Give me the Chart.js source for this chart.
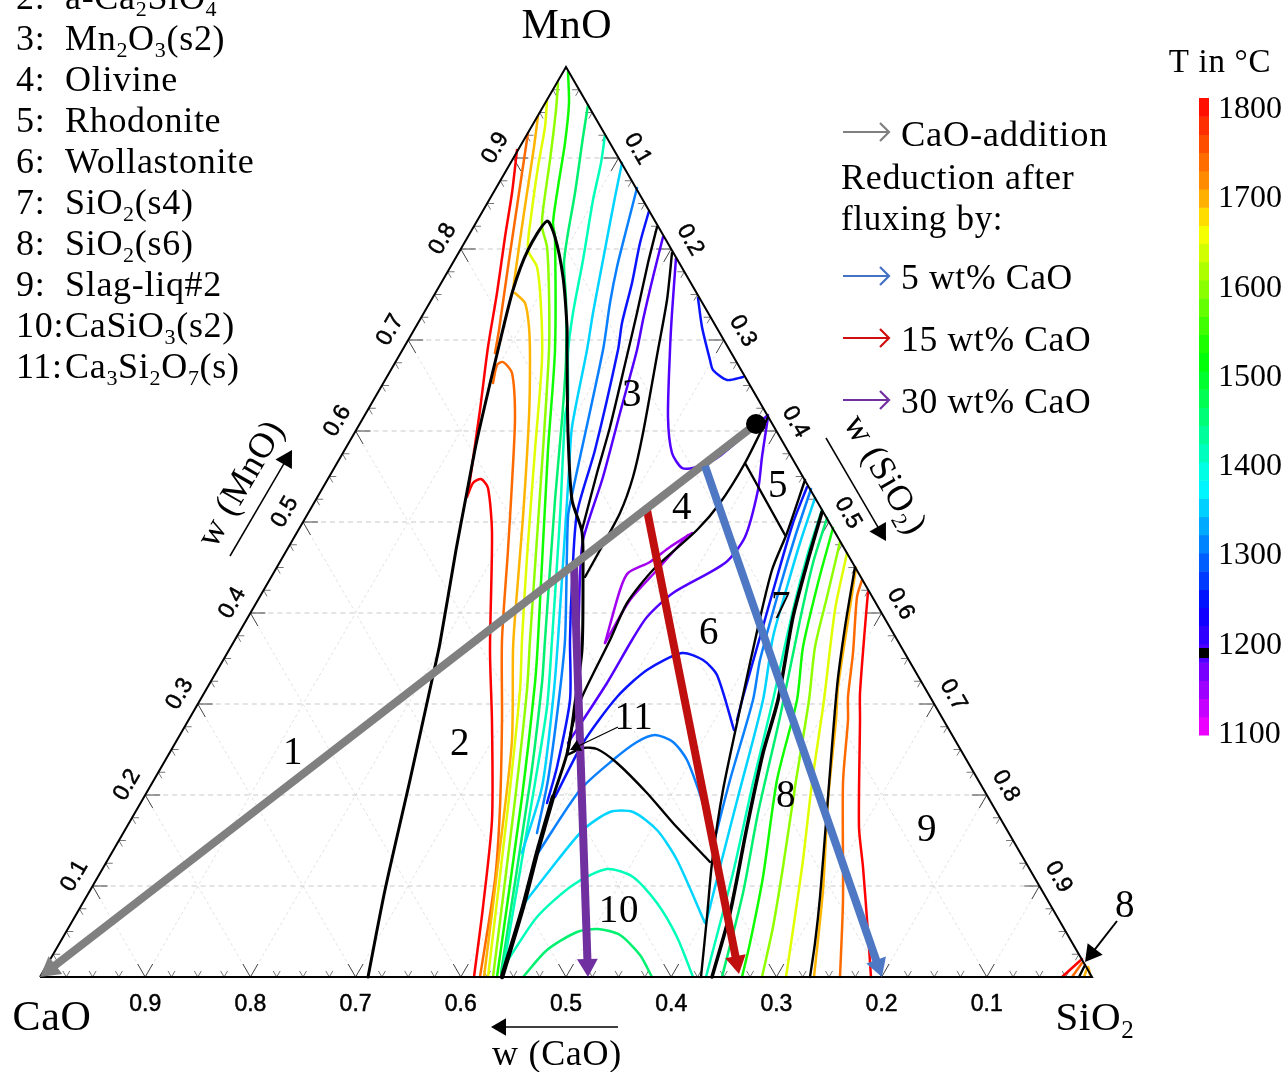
<!DOCTYPE html>
<html>
<head>
<meta charset="utf-8">
<title>CaO-MnO-SiO2</title>
<style>
  html, body { margin: 0; padding: 0; background: #fff; }
  canvas { display: block; }
</style>
<script src="https://cdn.jsdelivr.net/npm/chart.js@4"></script>
</head>
<body>
<canvas id="ternary" width="1286" height="1072"></canvas>
<script>
// Diagram units: x runs along the CaO-SiO2 edge (1052 long), y is the height above it (910 at MnO)
const EDGE = 1052;
const HEIGHT = 910;

// Tick values
const majorTicks = [0.1, 0.2, 0.3, 0.4, 0.5, 0.6, 0.7, 0.8, 0.9];
const minorTicks = [0.025, 0.05, 0.075, 0.125, 0.15, 0.175, 0.225, 0.25, 0.275, 0.325, 0.35, 0.375,
  0.425, 0.45, 0.475, 0.525, 0.55, 0.575, 0.625, 0.65, 0.675, 0.725, 0.75, 0.775, 0.825, 0.85, 0.875,
  0.925, 0.95, 0.975];
const colorbarTicks = [1800, 1700, 1600, 1500, 1400, 1300, 1200, 1100];
const colorbarStops = [
  [1800, [255, 0, 0]], [1700, [255, 154, 0]], [1655, [255, 255, 0]], [1515, [0, 255, 0]],
  [1375, [0, 255, 255]], [1240, [0, 0, 255]], [1190, [80, 0, 255]], [1100, [255, 0, 255]]
];

// Isotherms, hottest first
const isoRed = [
  [[477,827],[472,784],[465,740],[457,684],[448,630],[440,567],[429,490]],
  [[427,480],[433,494],[441,498],[448,489],[452,444],[450,327],[452,254],[452,157],[443,70],[434,0]],
  [[828,385],[825,350],[820,284],[820,257],[819,150],[823,110],[828,44],[831,0]],
  [[1022,0],[1042,18]]
];
const isoOrange = [
  [[488,844],[482,804],[475,757],[468,710],[459,647],[455,624]],
  [[453,594],[457,612],[463,615],[472,604],[475,560],[472,494],[468,427],[462,337],[462,257],[460,170],[455,97],[440,0]],
  [[822,397],[817,380],[813,324],[808,280],[808,257],[803,194],[803,77],[800,0]],
  [[1032,0],[1042,14]]
];
const isoAmber = [
  [[498,861],[494,830],[487,784],[480,737],[473,687]],
  [[475,684],[485,674],[489,650],[490,617],[489,560],[483,460],[475,360],[473,327],[472,237],[463,154],[444,0]],
  [[816,409],[807,350],[798,290],[796,257],[788,177],[783,87],[774,0]],
  [[1044,0],[1048,10],[1050,2]]
];
const isoYellow = [
  [[507,876],[505,850],[498,810],[491,760],[488,727],[497,710],[501,670],[502,617],[495,527],[487,420],[482,337],[480,287],[468,170],[448,0]],
  [[807,424],[795,367],[784,277],[772,194],[763,117],[753,47],[746,0]]
];
const isoLime = [
  [[518,894],[516,867],[510,817],[503,767],[502,750],[507,730],[509,684],[509,627],[503,527],[490,337],[487,287],[475,177],[453,0]],
  [[800,435],[787,380],[775,330],[769,277],[755,190],[743,110],[733,50],[722,0]]
];
const isoGreen = [
  [[528,905],[529,874],[525,834],[518,790],[513,754],[515,740],[515,627],[508,527],[498,337],[495,294],[482,180],[457,0]],
  [[793,449],[778,394],[763,330],[757,277],[737,197],[723,100],[710,34],[702,0]]
];
const isoSpring = [
  [[548,872],[543,840],[535,784],[528,744],[524,714],[526,677],[526,617],[522,557],[515,477],[505,337],[502,294],[490,194],[461,4]],
  [[483,0],[507,27],[537,45],[558,48],[580,42],[600,22],[612,0]],
  [[787,459],[773,414],[760,357],[740,260],[718,164],[703,84],[682,0]]
];
const isoMint = [
  [[565,842],[561,814],[553,777],[543,717],[533,664],[528,624],[528,577],[525,560],[520,460],[512,337],[507,270],[495,194],[463,7]],
  [[468,17],[497,60],[533,92],[567,108],[593,100],[617,74],[637,40],[653,0]],
  [[782,467],[768,424],[753,367],[733,277],[713,194],[693,104],[666,0]]
];
const isoCyan = [
  [[582,814],[575,780],[563,717],[553,664],[547,627],[532,550],[529,507],[518,337],[513,277],[502,190],[482,124]],
  [[483,72],[510,107],[543,147],[570,165],[593,165],[617,147],[637,117],[665,54]],
  [[775,479],[760,434],[747,390],[733,340],[723,277],[698,180],[680,110],[666,54]]
];
const isoAzure = [
  [[597,789],[587,750],[577,710],[570,674],[563,627],[533,487],[528,460],[525,337],[518,270],[508,197],[497,144]],
  [[498,124],[540,187],[573,217],[597,235],[615,242],[633,235],[647,217],[663,174],[673,142]],
  [[771,488],[755,440],[740,390],[720,317],[713,277],[690,197],[675,139]]
];
const isoBlue = [
  [[609,766],[600,734],[592,694],[582,654],[578,627],[555,527],[537,464],[532,394],[530,337],[530,277],[517,210],[507,174]],
  [[515,180],[543,234],[577,280],[607,307],[642,324],[663,317],[677,302],[694,247]],
  [[658,679],[662,650],[670,617],[673,607],[687,597],[703,600]],
  [[767,490],[753,454],[737,400],[720,340],[703,280],[697,257]]
];
const isoViolet = [
  [[623,740],[613,700],[603,657],[597,627],[580,564],[563,500],[543,437],[540,400],[538,327],[536,287]],
  [[636,719],[632,664],[630,627],[628,560],[632,524],[642,509],[653,509],[677,519],[707,544],[728,562]],
  [[728,560],[722,520],[718,487],[705,440],[685,414],[633,384],[607,360],[592,337],[567,294],[528,234]]
];
const isoPurple = [
  [[652,444],[630,430],[610,415],[588,404],[580,387],[565,334]],
  [[648,442],[617,407],[590,377],[565,334]]
];

// Phase boundaries
const boundaryMain = [[328,0],[345,87],[370,197],[392,297],[400,334],[416,427],[426,480],[437,537],[458,627],[473,687],[488,727],[507,756],[515,740],[523,700],[527,650],[527,627],[528,544],[532,477],[542,445],[543,400],[542,327],[535,274],[528,227],[513,180]];
const boundaryLow = [[513,180],[497,124],[483,70],[462,0]];
const boundaryThick = [[782,465],[768,417],[753,360],[738,277],[723,224],[707,150],[690,64],[672,0]];
const boundaryThin = [
  [[617,750],[608,714],[597,664],[586,617],[570,550],[557,504],[542,447]],
  [[632,724],[627,677],[618,627],[603,544],[593,500],[580,464],[560,427],[545,400]],
  [[728,560],[705,514],[680,474],[657,447],[613,407],[587,374],[570,337],[542,280],[532,250],[527,224]],
  [[705,514],[745,442]],
  [[765,497],[747,444],[732,407],[718,350],[702,277],[683,187],[672,114],[667,60],[661,0]],
  [[815,410],[805,350],[797,290],[787,167],[780,80],[775,34],[770,0]],
  [[527,222],[543,229],[557,228],[577,214],[607,184],[633,154],[670,115]],
  [[1039,0],[1045,12]]
];

// Fluxing paths and the start composition
const startPoint = [716, 553];
const pathCaO = [[716,553],[0,0]];
const path5 = [[665,511],[842,0]];
const path15 = [[607,467],[699,3]];
const path30 = [[534,412],[548,0]];

const isothermGroups = [
  [isoPurple, '#a400f0'], [isoViolet, '#5200ff'], [isoBlue, '#0a14ff'], [isoAzure, '#0a80ff'],
  [isoCyan, '#00d4ff'], [isoMint, '#00ffb8'], [isoSpring, '#00f070'], [isoGreen, '#10ff00'],
  [isoLime, '#90ff00'], [isoYellow, '#e0ff00'], [isoAmber, '#ffb400'], [isoOrange, '#ff6a00'], [isoRed, '#ff0000']
];

// Composition to diagram units
function ternary(sio2, mno) {
  return { x: EDGE * (sio2 + mno / 2), y: HEIGHT * mno };
}
function toPoints(list) {
  return list.map(p => ({ x: p[0], y: p[1] }));
}
function lineSet(points, color, width, order, extra) {
  return Object.assign({
    data: points, showLine: true, borderColor: color, borderWidth: width,
    pointRadius: 0, tension: 0, clip: false, order: order
  }, extra || {});
}
function curveSet(list, color, width, order) {
  return lineSet(toPoints(list), color, width, order, { tension: 0.25, borderCapStyle: 'round', borderJoinStyle: 'round' });
}

// Straight arrow with a triangular head, head tip sits on the last point
function arrowSets(path, color, width, size, order) {
  const a = path[0], b = path[1];
  const len = Math.hypot(b[0] - a[0], b[1] - a[1]);
  const ux = (b[0] - a[0]) / len, uy = (b[1] - a[1]) / len;
  const c = { x: b[0] - ux * size, y: b[1] - uy * size };
  return [
    lineSet([{ x: a[0], y: a[1] }, c], color, width, order),
    { data: [c], showLine: false, pointStyle: 'triangle', pointRadius: size, pointBackgroundColor: color,
      pointBorderWidth: 0, pointRotation: Math.atan2(ux, uy) * 180 / Math.PI, clip: false, order: order }
  ];
}

// Open legend arrow, x0..x1 at height y
function legendArrow(x0, x1, y, color) {
  return [
    lineSet(toPoints([[x0, y], [x1, y]]), color, 2.2, 1),
    lineSet(toPoints([[x1 - 9, y + 9], [x1, y], [x1 - 9, y - 9]]), color, 2.2, 1)
  ];
}

// Grid and tick segments, broken up with NaN
function segments(pairs) {
  const out = [];
  pairs.forEach(p => { out.push(p[0], p[1], { x: NaN, y: NaN }); });
  return out;
}
const gridFlat = segments(majorTicks.map(v => [ternary(0, v), ternary(1 - v, v)]));
const gridSlant = segments(majorTicks.flatMap(v => [
  [ternary(v, 0), ternary(v, 1 - v)],
  [ternary(v, 0), ternary(0, v)]
]));

function tickPairs(values, len) {
  const dx = len / 2, dy = len * 0.866;
  return values.flatMap(v => {
    const bottom = ternary(v, 0), left = ternary(0, v), right = ternary(1 - v, v);
    return [
      [bottom, { x: bottom.x - dx, y: dy }], [bottom, { x: bottom.x + dx, y: dy }],
      [left, { x: left.x + len, y: left.y }], [left, { x: left.x + dx, y: left.y - dy }],
      [right, { x: right.x - len, y: right.y }], [right, { x: right.x - dx, y: right.y - dy }]
    ];
  });
}

const datasets = [];
datasets.push(lineSet(gridFlat, '#c9c9c9', 1, 20, { borderDash: [5, 4] }));
datasets.push(lineSet(gridSlant, '#e2e2e2', 1, 20, { borderDash: [3, 3] }));
datasets.push(lineSet(segments(tickPairs(majorTicks, 15)), '#444444', 1, 19));
datasets.push(lineSet(segments(tickPairs(minorTicks, 7)), '#777777', 1, 19));
datasets.push(lineSet(toPoints([[0,0],[526,910],[1052,0],[0,0]]), '#000000', 2, 6));

isothermGroups.forEach(g => {
  g[0].forEach(line => datasets.push(curveSet(line, g[1], 2.5, 10)));
});
datasets.push(curveSet(boundaryMain, '#000000', 3, 8));
datasets.push(curveSet(boundaryLow, '#000000', 4.5, 8));
datasets.push(curveSet(boundaryThick, '#000000', 3.5, 8));
boundaryThin.forEach(line => datasets.push(curveSet(line, '#000000', 2.4, 8)));

datasets.push(...arrowSets(path30, '#7030a0', 8, 12, 4));
datasets.push(...arrowSets(path15, '#c00f0f', 8, 12, 3));
datasets.push(...arrowSets(path5, '#4f78c4', 8, 12, 2));
datasets.push(...arrowSets(pathCaO, '#808080', 8, 13, 2));
datasets.push({ data: toPoints([startPoint]), showLine: false, pointRadius: 10, pointBackgroundColor: '#000',
  pointBorderWidth: 0, clip: false, order: 0 });

// Thin annotation arrows
datasets.push(...arrowSets([[578,250],[530,227]], '#000000', 1.2, 7, 1));
datasets.push(...arrowSets([[1077,56],[1045,15]], '#000000', 2, 11, 1));
datasets.push(...arrowSets([[190,421],[252,527]], '#000000', 1.5, 11, 1));
datasets.push(...arrowSets([[786,539],[846,436]], '#000000', 1.5, 11, 1));
datasets.push(...arrowSets([[578,-50],[451,-50]], '#000000', 1.5, 10, 1));

// Legend arrows
datasets.push(...legendArrow(803, 849, 845, '#808080'));
datasets.push(...legendArrow(803, 849, 701, '#4472c4'));
datasets.push(...legendArrow(803, 849, 639, '#d01010'));
datasets.push(...legendArrow(803, 849, 577, '#7030a0'));

// Colour bar, stepped in 20 degree bands
const barX = 1164, barTop = 879, barBottom = 242;
function barValue(t) {
  return barBottom + (t - 1100) * (barTop - barBottom) / 700;
}
function barColor(t) {
  for (let i = 0; i < colorbarStops.length - 1; i++) {
    const hi = colorbarStops[i], lo = colorbarStops[i + 1];
    if (t <= hi[0] && t >= lo[0]) {
      const f = (hi[0] - t) / (hi[0] - lo[0]);
      const c = hi[1].map((v, k) => Math.round(v + (lo[1][k] - v) * f));
      return 'rgb(' + c.join(',') + ')';
    }
  }
  return '#000';
}
for (let t = 1800; t > 1100; t -= 20) {
  datasets.push(lineSet([{ x: barX, y: barValue(t) }, { x: barX, y: barValue(t - 20) - 0.5 }], barColor(t - 10), 10, 5, { borderCapStyle: 'butt' }));
}
datasets.push(lineSet([{ x: barX, y: barValue(1190) + 5 }, { x: barX, y: barValue(1190) - 5 }], '#000000', 10, 4));

const SERIF = '"Liberation Serif", serif';
const SANS = '"Liberation Sans", sans-serif';

// a_2b means subscript 2
function drawRich(ctx, text, x, y, size) {
  const parts = text.split(/_(\d)/);
  ctx.textAlign = 'left';
  let cx = x;
  parts.forEach((part, i) => {
    const sub = i % 2 === 1;
    ctx.font = (sub ? Math.round(size * 0.62) : size) + 'px ' + SERIF;
    ctx.fillText(part, cx, sub ? y + size * 0.2 : y);
    cx += ctx.measureText(part).width;
  });
}
function richWidth(ctx, text, size) {
  let w = 0;
  text.split(/_(\d)/).forEach((part, i) => {
    ctx.font = (i % 2 === 1 ? Math.round(size * 0.62) : size) + 'px ' + SERIF;
    w += ctx.measureText(part).width;
  });
  return w;
}
function centered(ctx, text, x, y, size, deg) {
  ctx.save();
  ctx.translate(x, y);
  ctx.rotate((deg || 0) * Math.PI / 180);
  drawRich(ctx, text, -richWidth(ctx, text, size) / 2, 0, size);
  ctx.restore();
}

const phaseList = ['2:', '3:', '4:', '5:', '6:', '7:', '8:', '9:', '10:', '11:'];
const phaseNames = ['a-Ca_2SiO_4', 'Mn_2O_3(s2)', 'Olivine', 'Rhodonite', 'Wollastonite', 'SiO_2(s4)', 'SiO_2(s6)', 'Slag-liq#2', 'CaSiO_3(s2)', 'Ca_3Si_2O_7(s)'];
const regionLabels = [['1',293,764],['2',460,755],['3',632,406],['4',682,519],['5',778,497],['6',709,644],['7',781,618],['8',786,807],['9',927,841],['10',619,922],['11',634,729],['8',1125,917]];

const textPlugin = {
  id: 'textPlugin',
  afterDraw(chart) {
    const ctx = chart.ctx, sx = chart.scales.x, sy = chart.scales.y;
    ctx.save();
    ctx.fillStyle = '#000';
    ctx.textBaseline = 'alphabetic';
    ctx.letterSpacing = '0.7px';

    phaseList.forEach((label, i) => {
      const base = 9 + i * 41;
      drawRich(ctx, label, 16, base, 36);
      drawRich(ctx, phaseNames[i], 65, base, 36);
    });
    regionLabels.forEach(r => centered(ctx, r[0], r[1], r[2], 39));

    centered(ctx, 'MnO', 567, 38, 42);
    centered(ctx, 'CaO', 52, 1030, 42);
    centered(ctx, 'SiO_2', 1095, 1030, 41);
    centered(ctx, 'w (CaO)', 557, 1065, 36);
    centered(ctx, 'w (MnO)', 250, 489, 36, -60);
    centered(ctx, 'w (SiO_2)', 876, 480, 36, 60);
    centered(ctx, 'T in \u00b0C', 1220, 72, 33);

    drawRich(ctx, 'CaO-addition', 901, 146, 36.5);
    drawRich(ctx, 'Reduction after', 841, 189, 36);
    drawRich(ctx, 'fluxing by:', 841, 230, 35);
    drawRich(ctx, '5 wt% CaO', 901, 289, 35.5);
    drawRich(ctx, '15 wt% CaO', 901, 351, 35.5);
    drawRich(ctx, '30 wt% CaO', 901, 413, 35.5);

    ctx.letterSpacing = '0px';
    colorbarTicks.forEach(t => {
      const y = sy.getPixelForValue(245 + (t - 1100) * 0.893);
      drawRich(ctx, String(t), 1218, y + 11, 32);
    });

    // Axis tick labels
    ctx.font = '23px ' + SANS;
    ctx.textAlign = 'center';
    ctx.textBaseline = 'middle';
    ctx.lineWidth = 0.5;
    ctx.strokeStyle = '#000';
    const tickText = (text, x, y, deg) => {
      ctx.save();
      ctx.translate(x, y);
      ctx.rotate(deg * Math.PI / 180);
      ctx.fillText(text, 0, 0);
      ctx.strokeText(text, 0, 0);
      ctx.restore();
    };
    majorTicks.forEach(v => {
      const label = v.toFixed(1);
      const b = ternary(1 - v, 0), l = ternary(0, v), r = ternary(v, 1 - v);
      tickText(label, sx.getPixelForValue(b.x), sy.getPixelForValue(b.y) + 28, 0);
      tickText(label, sx.getPixelForValue(l.x) - 18, sy.getPixelForValue(l.y) - 10, -60);
      tickText(label, sx.getPixelForValue(r.x) + 19, sy.getPixelForValue(r.y) - 9, 60);
    });
    ctx.restore();
  }
};

new Chart(document.getElementById('ternary'), {
  type: 'scatter',
  data: { datasets: datasets },
  plugins: [textPlugin],
  options: {
    responsive: false,
    animation: false,
    layout: { padding: 0, autoPadding: false },
    plugins: { legend: { display: false }, tooltip: { enabled: false } },
    scales: {
      // extended past the triangle so the legend, colour bar and labels share one frame
      x: { type: 'linear', display: false, min: -40, max: 1246 },
      y: { type: 'linear', display: false, min: -95, max: 977 }
    }
  }
});
</script>
</body>
</html>
